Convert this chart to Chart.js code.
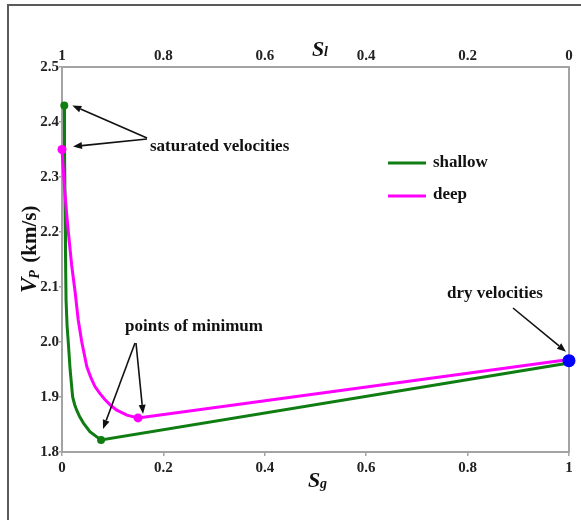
<!DOCTYPE html>
<html lang="en">
<head>
<meta charset="UTF-8">
<title>VP versus gas saturation</title>
<script src="https://cdn.jsdelivr.net/npm/chart.js"></script>
<style>
  html, body { margin: 0; padding: 0; background: #fff; }
  #wrap { width: 581px; height: 520px; }
</style>
</head>
<body>
<div id="wrap"><canvas id="myChart" width="581" height="520"></canvas></div>
<script>
// tick labels
var sgTicks = [0, 0.2, 0.4, 0.6, 0.8, 1];
var slTicks = [1, 0.8, 0.6, 0.4, 0.2, 0];
var vpTicks = [1.8, 1.9, 2.0, 2.1, 2.2, 2.3, 2.4, 2.5];
var vpLabels = ["1.8", "1.9", "2.0", "2.1", "2.2", "2.3", "2.4", "2.5"];

// shallow curve (Sg, Vp km/s)
var shallowSg = [0.0045, 0.005, 0.006, 0.007, 0.008, 0.010, 0.0125, 0.016, 0.021, 0.025, 0.029, 0.035, 0.042, 0.055, 0.068, 0.077, 1];
var shallowVp = [2.43, 2.35, 2.25, 2.15, 2.076, 2.03, 1.998, 1.95, 1.90, 1.886, 1.876, 1.864, 1.853, 1.837, 1.828, 1.822, 1.962];

// deep curve
var deepSg = [0, 0.002, 0.005, 0.009, 0.0125, 0.019, 0.026, 0.032, 0.039, 0.049, 0.057, 0.065, 0.075, 0.085, 0.097, 0.108, 0.128, 0.15, 1];
var deepVp = [2.35, 2.32, 2.28, 2.235, 2.20, 2.14, 2.09, 2.04, 2.00, 1.955, 1.935, 1.919, 1.906, 1.895, 1.884, 1.876, 1.867, 1.862, 1.968];

// marked points: [shallow, deep]
var saturatedSg = [0.0045, 0];
var saturatedVp = [2.43, 2.35];
var minimumSg = [0.077, 0.15];
var minimumVp = [1.822, 1.862];
var drySg = [1];
var dryVp = [1.966];

function pts(xs, ys) {
  return xs.map(function (x, i) { return { x: x, y: ys[i] }; });
}

var serif = '"Liberation Serif", "Times New Roman", serif';
var green = "#0f7d12";
var pink = "#ff00ff";

function arrow(c, x1, y1, x2, y2) {
  var a = Math.atan2(y2 - y1, x2 - x1);
  var len = 9, w = 3.5;
  var bx = x2 - len * Math.cos(a), by = y2 - len * Math.sin(a);
  c.beginPath();
  c.moveTo(x1, y1);
  c.lineTo(bx, by);
  c.stroke();
  c.beginPath();
  c.moveTo(x2, y2);
  c.lineTo(bx + w * Math.sin(a), by - w * Math.cos(a));
  c.lineTo(bx - w * Math.sin(a), by + w * Math.cos(a));
  c.closePath();
  c.fill();
}

var overlay = {
  id: "overlay",
  beforeDraw: function (chart) {
    var c = chart.ctx;
    c.save();
    c.fillStyle = "#fff";
    c.fillRect(0, 0, chart.width, chart.height);
    c.strokeStyle = "#5a5a5a";
    c.lineWidth = 2;
    c.beginPath();
    c.moveTo(8, 520);
    c.lineTo(8, 5);
    c.lineTo(581, 5);
    c.stroke();
    c.restore();
  },
  beforeDatasetsDraw: function (chart) {
    var a = chart.chartArea, c = chart.ctx;
    c.save();
    c.strokeStyle = "#a3a3a3";
    c.lineWidth = 2;
    c.strokeRect(a.left, a.top, a.right - a.left, a.bottom - a.top);
    c.restore();
  },
  afterDraw: function (chart) {
    var c = chart.ctx, x = chart.scales.x, y = chart.scales.y;
    c.save();
    c.fillStyle = "#111";
    c.strokeStyle = "#111";
    c.lineWidth = 1.6;

    // axis titles
    c.textBaseline = "alphabetic";
    c.textAlign = "left";
    c.font = "italic bold 22px " + serif;
    c.fillText("S", 312, 56);
    c.fillText("S", 308, 487);
    c.font = "italic bold 14px " + serif;
    c.fillText("l", 324, 56);
    c.fillText("g", 320, 488);

    c.save();
    c.translate(36, 293);
    c.rotate(-Math.PI / 2);
    c.font = "italic bold 23px " + serif;
    c.fillText("V", 0, 0);
    var vw = c.measureText("V").width;
    c.font = "italic bold 14px " + serif;
    c.fillText("P", vw - 1, 3);
    c.font = "bold 21px " + serif;
    c.fillText("(km/s)", vw + 15, 0);
    c.restore();

    // legend
    c.lineWidth = 3;
    c.strokeStyle = green;
    c.beginPath(); c.moveTo(388, 163); c.lineTo(426, 163); c.stroke();
    c.strokeStyle = pink;
    c.beginPath(); c.moveTo(388, 196); c.lineTo(426, 196); c.stroke();
    c.font = "bold 17px " + serif;
    c.textBaseline = "middle";
    c.fillText("shallow", 433, 163);
    c.fillText("deep", 433, 195);

    // annotations
    c.strokeStyle = "#111";
    c.lineWidth = 1.6;
    c.fillText("saturated velocities", 150, 147);
    arrow(c, 147, 138, x.getPixelForValue(saturatedSg[0]) + 8, y.getPixelForValue(saturatedVp[0]));
    arrow(c, 147, 139, x.getPixelForValue(saturatedSg[1]) + 11, y.getPixelForValue(saturatedVp[1]) - 3);

    c.fillText("points of minimum", 125, 327);
    arrow(c, 135, 343, x.getPixelForValue(minimumSg[0]) + 2, y.getPixelForValue(minimumVp[0]) - 11);
    arrow(c, 136, 343, x.getPixelForValue(minimumSg[1]) + 5, y.getPixelForValue(minimumVp[1]) - 4);

    c.fillText("dry velocities", 447, 294);
    arrow(c, 513, 308, x.getPixelForValue(drySg[0]) - 3, y.getPixelForValue(dryVp[0]) - 9);
    c.restore();
  }
};

var tickFont = { family: serif, size: 15, weight: "bold" };

new Chart(document.getElementById("myChart"), {
  type: "scatter",
  plugins: [overlay],
  data: {
    datasets: [
      { label: "dry", data: pts(drySg, dryVp), pointRadius: 6.5, pointBackgroundColor: "#0000ff", pointBorderWidth: 0, showLine: false },
      { label: "deep points", data: pts([saturatedSg[1], minimumSg[1]], [saturatedVp[1], minimumVp[1]]), pointRadius: 4.5, pointBackgroundColor: pink, pointBorderWidth: 0, showLine: false },
      { label: "shallow points", data: pts([saturatedSg[0], minimumSg[0]], [saturatedVp[0], minimumVp[0]]), pointRadius: 4, pointBackgroundColor: green, pointBorderWidth: 0, showLine: false },
      { label: "deep", data: pts(deepSg, deepVp), showLine: true, borderColor: pink, borderWidth: 3, pointRadius: 0, tension: 0 },
      { label: "shallow", data: pts(shallowSg, shallowVp), showLine: true, borderColor: green, borderWidth: 3, pointRadius: 0, tension: 0 }
    ]
  },
  options: {
    responsive: false,
    animation: false,
    clip: false,
    layout: { padding: { left: 0, right: 12, top: 0, bottom: 0 } },
    plugins: { legend: { display: false }, tooltip: { enabled: false } },
    scales: {
      x: {
        type: "linear", position: "bottom", min: 0, max: 1,
        afterFit: function (s) { s.height = 68; },
        afterBuildTicks: function (s) { s.ticks = sgTicks.map(function (v) { return { value: v }; }); },
        ticks: { font: tickFont, color: "#222", padding: 3, maxRotation: 0, autoSkip: false,
          callback: function (v) { return String(v); } },
        grid: { drawOnChartArea: false, drawTicks: true, tickLength: 4, color: "#a3a3a3", lineWidth: 1.5 },
        border: { display: false }
      },
      x2: {
        type: "linear", position: "top", min: 0, max: 1, reverse: true,
        afterFit: function (s) { s.height = 67; },
        afterBuildTicks: function (s) { s.ticks = slTicks.map(function (v) { return { value: v }; }); },
        ticks: { font: tickFont, color: "#222", padding: 2, maxRotation: 0, autoSkip: false,
          callback: function (v) { return String(v); } },
        grid: { drawOnChartArea: false, drawTicks: false },
        border: { display: false }
      },
      y: {
        type: "linear", min: 1.8, max: 2.5,
        afterFit: function (s) { s.width = 62; },
        afterBuildTicks: function (s) { s.ticks = vpTicks.map(function (v) { return { value: v }; }); },
        ticks: { font: tickFont, color: "#222", padding: 0, autoSkip: false,
          callback: function (v) { return vpLabels[vpTicks.indexOf(v)]; } },
        grid: { drawOnChartArea: false, drawTicks: true, tickLength: 3, color: "#a3a3a3", lineWidth: 1.5 },
        border: { display: false }
      }
    }
  }
});
</script>
</body>
</html>
